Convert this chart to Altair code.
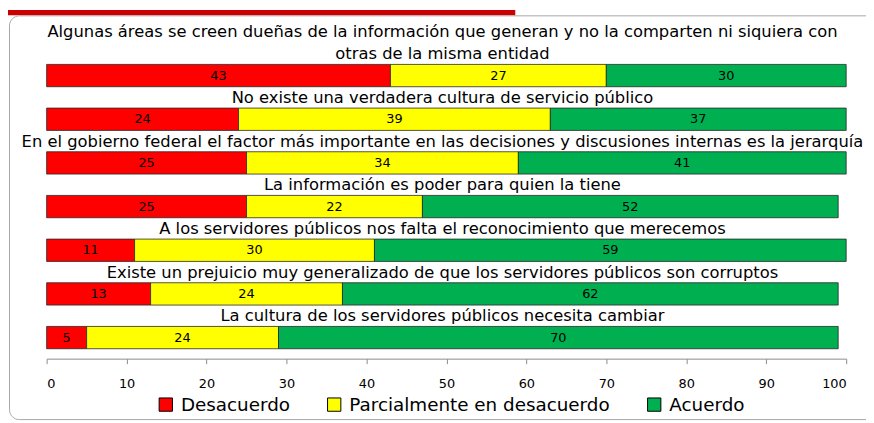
import altair as alt
import pandas as pd

preguntas = [
    "Algunas áreas se creen dueñas de la información que generan y no la comparten ni siquiera con\notras de la misma entidad",
    "No existe una verdadera cultura de servicio público",
    "En el gobierno federal el factor más importante en las decisiones y discusiones internas es la jerarquía",
    "La información es poder para quien la tiene",
    "A los servidores públicos nos falta el reconocimiento que merecemos",
    "Existe un prejuicio muy generalizado de que los servidores públicos son corruptos",
    "La cultura de los servidores públicos necesita cambiar",
]
categorias = ["Desacuerdo", "Parcialmente en desacuerdo", "Acuerdo"]
colores = ["#FF0000", "#FFFF00", "#00B050"]
desacuerdo = [43, 24, 25, 25, 11, 13, 5]
parcial = [27, 39, 34, 22, 30, 24, 24]
acuerdo = [30, 37, 41, 52, 59, 62, 70]
ticks = list(range(0, 101, 10))

rows = []
for i, p in enumerate(preguntas):
    for j, (c, serie) in enumerate(zip(categorias, [desacuerdo, parcial, acuerdo])):
        rows.append({"pregunta": p, "categoria": c, "orden": j, "valor": serie[i]})
df = pd.DataFrame(rows)

# last line of each title sits right above its bar; earlier lines sit one line higher
ultima = pd.DataFrame({"pregunta": preguntas,
                       "linea": [p.split("\n")[-1] for p in preguntas]})
previa = pd.DataFrame({"pregunta": [p for p in preguntas if "\n" in p],
                       "linea": [p.split("\n")[0] for p in preguntas if "\n" in p]})

W, H = 807, 307
FONT = "DejaVu Sans"
TX = 399.5

yscale = alt.Scale(domain=preguntas, paddingInner=0.489, paddingOuter=0.227)
xscale = alt.Scale(domain=[0, 100], nice=False)
y_enc = alt.Y("pregunta:N", scale=yscale, axis=None, sort=preguntas)

base = alt.Chart(df).transform_stack(
    stack="valor", groupby=["pregunta"], as_=["x0", "x1"],
    sort=[alt.SortField("orden", order="ascending")],
)

bars = base.mark_bar(stroke="#262626", strokeWidth=0.8).encode(
    x=alt.X("x0:Q", scale=xscale,
            axis=alt.Axis(values=ticks, title=None, grid=False, domainColor="#8c8c8c",
                          tickColor="#8c8c8c", tickSize=5, labelFont=FONT, labelFontSize=13,
                          labelColor="black", labelPadding=14, format="d")),
    x2="x1:Q",
    y=y_enc,
    color=alt.Color("categoria:N", scale=alt.Scale(domain=categorias, range=colores),
                    legend=alt.Legend(orient="none", legendX=111, legendY=344,
                                      direction="horizontal", title=None,
                                      symbolType="square", symbolSize=180,
                                      symbolStrokeColor="black", symbolStrokeWidth=1,
                                      symbolOpacity=1,
                                      labelFont=FONT, labelFontSize=18.5, labelColor="black",
                                      labelLimit=500, columnPadding=35, labelOffset=6,
                                      padding=0)),
)

labels = base.transform_calculate(mid="(datum.x0 + datum.x1) / 2").mark_text(
    font=FONT, fontSize=13, color="black", baseline="middle", align="center"
).encode(
    x=alt.X("mid:Q", scale=xscale),
    y=y_enc,
    text=alt.Text("valor:Q"),
)

titles_last = alt.Chart(ultima).mark_text(
    font=FONT, fontSize=16.5, color="black", align="center", baseline="alphabetic",
    dy=-16.5,
).encode(x=alt.value(TX), y=y_enc, text="linea:N")

titles_prev = alt.Chart(previa).mark_text(
    font=FONT, fontSize=16.5, color="black", align="center", baseline="alphabetic",
    dy=-39,
).encode(x=alt.value(TX), y=y_enc, text="linea:N")

deco = pd.DataFrame({"k": [0]})
border = alt.Chart(deco).mark_rect(
    filled=False, stroke="#a6a6a6", strokeWidth=1, cornerRadius=10
).encode(
    x=alt.value(-37.5), x2=alt.value(1200), y=alt.value(-39), y2=alt.value(368.5)
)
header = alt.Chart(deco).mark_rect(color="#CC0000").encode(
    x=alt.value(-39), x2=alt.value(473), y=alt.value(-45), y2=alt.value(-39.5)
)

chart = alt.layer(header, border, bars, labels, titles_prev, titles_last).resolve_scale(
    x="shared", y="shared"
).properties(
    width=W, height=H,
    autosize=alt.AutoSizeParams(type="none"),
    padding={"left": 39, "top": 45, "right": 20, "bottom": 62},
    background="white",
).configure_view(stroke=None)

chart.save("out.html", embed_options={"renderer": "svg", "actions": False})
